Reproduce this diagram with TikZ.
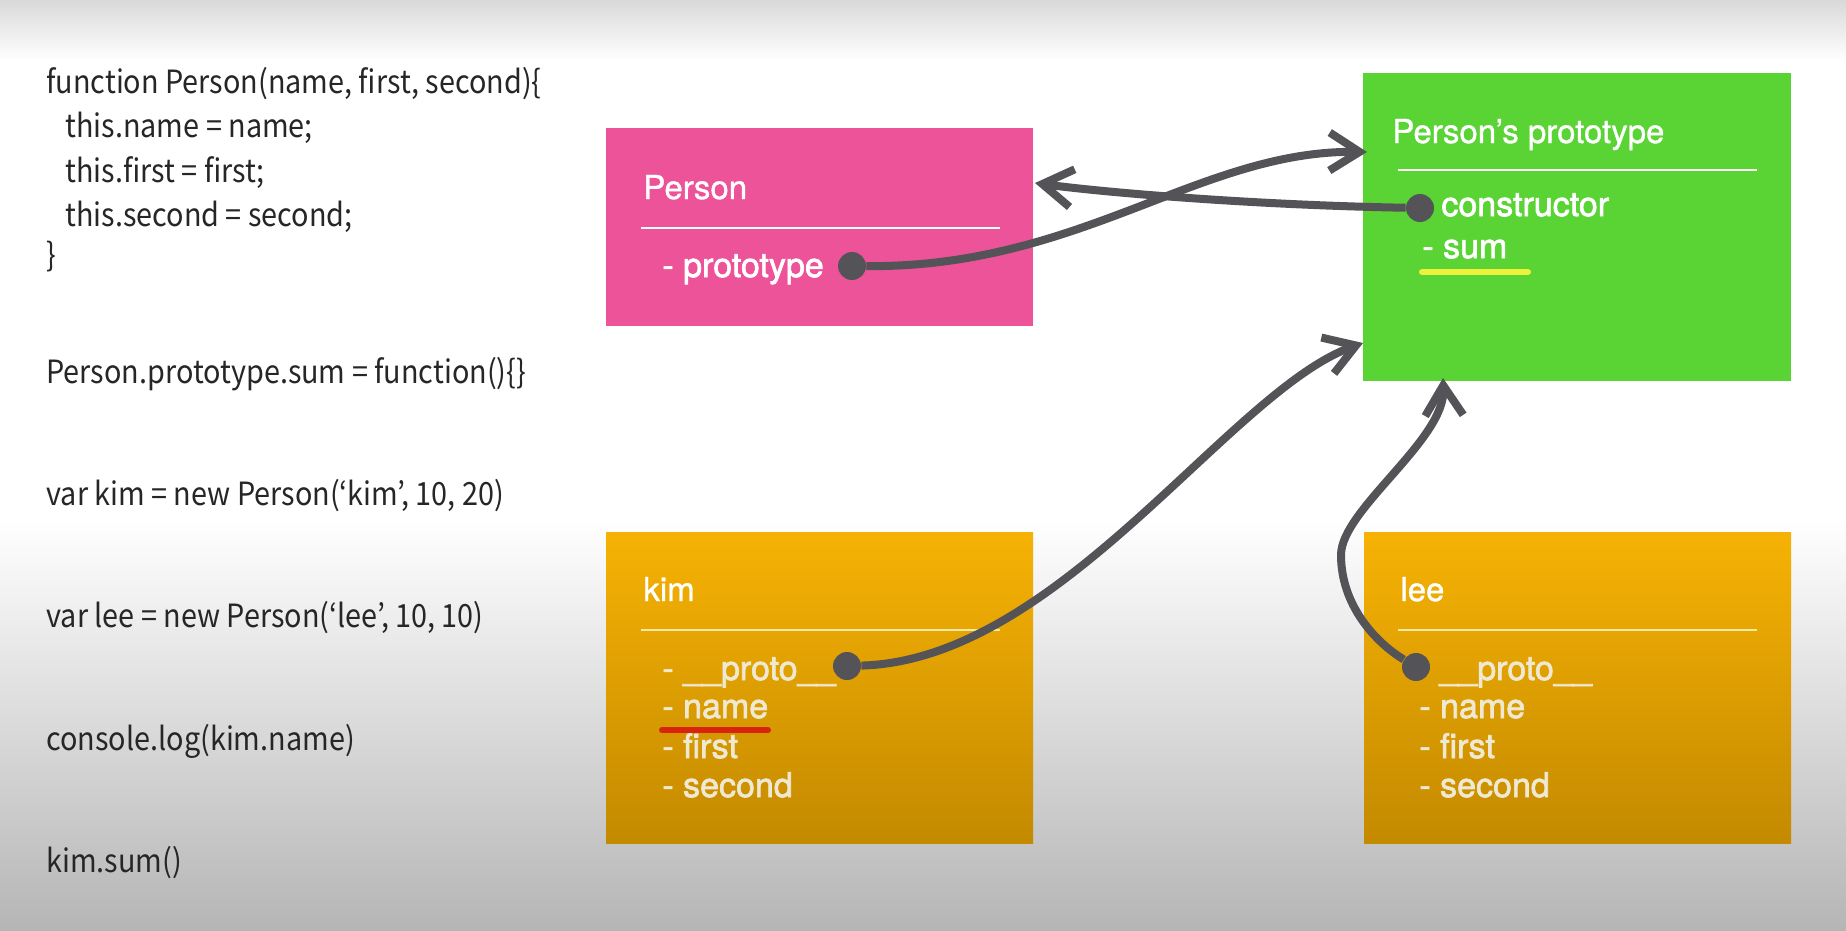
\documentclass[tikz,border=0pt]{standalone}
\usepackage{fontspec}
\setmainfont{TeX Gyre Heros}
\newfontfamily\titlefont[FakeBold=1]{TeX Gyre Heros}
\newfontfamily\itemfont[FakeBold=2]{TeX Gyre Heros}
\newfontfamily\codefont[FakeStretch=0.9]{Noto Sans CJK KR}
\usetikzlibrary{arrows.meta}
\definecolor{cpink}{HTML}{EC5399}
\definecolor{cgreen}{HTML}{5AD335}
\definecolor{ambertop}{HTML}{F6B204}
\definecolor{amberbot}{HTML}{C48A00}
\definecolor{ink}{HTML}{545357}
\definecolor{codeink}{HTML}{262626}
\definecolor{cfaint}{HTML}{EFE9D2}
\definecolor{cruleam}{HTML}{F4EAA4}
\definecolor{hiyellow}{HTML}{EEF03A}
\definecolor{hired}{HTML}{D8230F}

\begin{document}
\begin{tikzpicture}[
  x=0.5pt, y=-0.5pt,
  box/.style={anchor=north west, inner sep=0, outer sep=0},
  amber/.style={box, top color=ambertop, bottom color=amberbot},
  title/.style={anchor=base west, inner sep=0, text=white,
    font=\titlefont\fontsize{16.5}{18}\selectfont},
  item/.style={anchor=base west, inner sep=0, text=white,
    font=\itemfont\fontsize{17}{19}\selectfont},
  faint/.style={item, text=cfaint},
  code/.style={anchor=base west, inner sep=0, text=codeink,
    font=\codefont\fontsize{16}{18}\selectfont},
  rule/.style={draw=white, line width=0.9pt},
  dot/.style={circle, fill=ink, minimum size=14pt, inner sep=0},
  link/.style={draw=ink, line width=4pt,
    -{Straight Barb[length=15pt, width=19pt]}},
  hilite/.style={line width=3pt, line cap=round},
]
\useasboundingbox (0,0) rectangle (1846,931);

% ---- background ------------------------------------------------------------
\fill[white] (0,0) rectangle (1846,931);
\shade[top color=black!15, bottom color=white] (0,0) rectangle (1846,60);
\shade[top color=white, bottom color=black!29] (0,520) rectangle (1846,931);

% ---- code on the left --------------------------------------------------------
\node[code] (c1) at (46,94)  {function Person(name, first, second)\{};
\node[code] (c2) at (65,138) {this.name = name;};
\node[code] (c3) at (65,182) {this.first = first;};
\node[code] (c4) at (65,226) {this.second = second;};
\node[code] (c5) at (46,266) {\}};
\node[code] (c6) at (46,383) {Person.prototype.sum = function()\{\}};
\node[code] (c7) at (46,505) {var kim = new Person(‘kim’, 10, 20)};
\node[code] (c8) at (46,627) {var lee = new Person(‘lee’, 10, 10)};
\node[code] (c9) at (46,750) {console.log(kim.name)};
\node[code] (c10) at (46,872) {kim.sum()};

% ---- boxes -------------------------------------------------------------------
\node[box, fill=cpink, minimum width=213.5pt, minimum height=99pt] (person) at (606,128) {};
\node[box, fill=cgreen, minimum width=214pt, minimum height=154pt] (proto) at (1363,73) {};
\node[amber, minimum width=213.5pt, minimum height=155.5pt] (kim) at (606,532) {};
\node[amber, minimum width=213.5pt, minimum height=155.5pt] (lee) at (1364,532) {};

% Person
\node[title] (person-t) at (643,199) {Person};
\draw[rule] (641,228) -- (1000,228);
\node[item] (person-p) at (662,277) {- prototype};
\node[dot] (pdot) at (852,266) {};

% Person's prototype
\node[title] (proto-t) at (1392,143) {Person’s prototype};
\draw[rule] (1398,170) -- (1757,170);
\node[dot] (cdot) at (1420,208) {};
\node[item] (proto-c) at (1441,216) {constructor};
\node[item] (proto-s) at (1422,258) {- sum};
\draw[hilite, hiyellow] (1422,272) -- (1528,272);

% kim
\node[title] (kim-t) at (643,601) {kim};
\draw[rule, cruleam] (641,630) -- (1000,630);
\node[faint] (kim-1) at (662,680) {- \_\_proto\_\_};
\node[faint] (kim-2) at (662,718) {- name};
\node[faint] (kim-3) at (662,758) {- first};
\node[faint] (kim-4) at (662,797) {- second};
\draw[hilite, hired] (662,730) -- (768,730);
\node[dot] (kdot) at (847,666) {};

% lee
\node[title] (lee-t) at (1400,601) {lee};
\draw[rule, cruleam] (1398,630) -- (1757,630);
\node[faint] (lee-1) at (1439,680) {\_\_proto\_\_};
\node[faint] (lee-2) at (1419,718) {- name};
\node[faint] (lee-3) at (1419,758) {- first};
\node[faint] (lee-4) at (1419,797) {- second};
\node[dot] (ldot) at (1416,667) {};

% ---- links -------------------------------------------------------------------
\coordinate (tip-a) at (1367,152);
\coordinate (tip-b) at (1035,183);
\coordinate (tip-c) at (1363,343);
\coordinate (lee-mid) at (1341,555);
\coordinate (tip-d) at (1443,378);

\draw[link] (pdot) .. controls (1080,268) and (1200,150) .. (tip-a);
\draw[link] (cdot) .. controls (1250,205) and (1100,192) .. (tip-b);
\draw[link] (kdot) .. controls (1060,660) and (1230,390) .. (tip-c);
\draw[link] (ldot) .. controls (1375,642) and (1341,605) .. (lee-mid)
  .. controls (1341,510) and (1445,440) .. (tip-d);

\end{tikzpicture}
\end{document}
